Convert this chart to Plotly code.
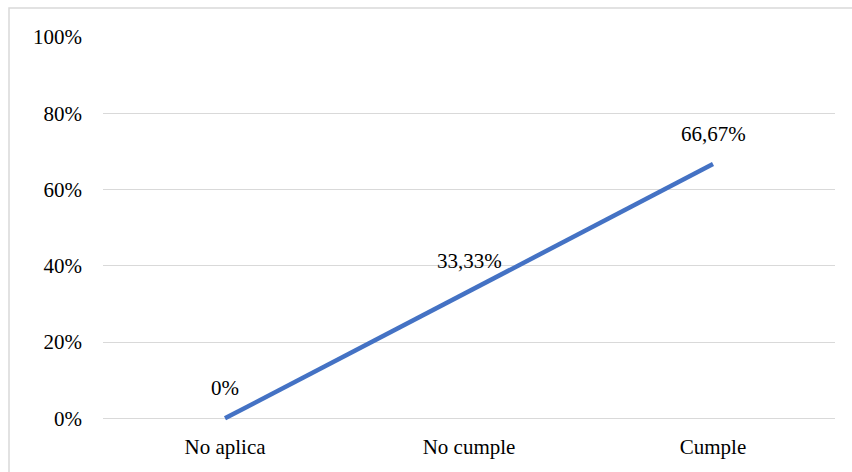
import plotly.graph_objects as go

categories = ["No aplica", "No cumple", "Cumple"]
values = [0, 33.33, 66.67]
labels = ["0%", "33,33%", "66,67%"]
y_ticks = [0, 20, 40, 60, 80, 100]
y_tick_text = ["0%", "20%", "40%", "60%", "80%", "100%"]

FONT = "Times New Roman"
W, H = 852, 472
ML, MR, MT = 103, 17, 37
Y_MIN, Y_MAX = -2, 100
PX_PER_UNIT = (418 - 37) / 100
MB = H - 418 - (0 - Y_MIN) * PX_PER_UNIT

fig = go.Figure()
fig.add_trace(go.Scatter(
    x=categories,
    y=values,
    mode="lines",
    line=dict(color="#4472C4", width=4.5),
    hoverinfo="skip",
))

# data labels above each point
for c, v, t in zip(categories, values, labels):
    fig.add_annotation(
        x=c, y=v, text=t, showarrow=False, yshift=30,
        font=dict(family=FONT, size=21, color="#000000"),
    )

pw = W - ML - MR
ph = H - MT - MB
# outer chart border (top/left visible, right/bottom run past the page)
fig.add_shape(
    type="rect", xref="paper", yref="paper",
    x0=(9 - ML) / pw, x1=(W + 5 - ML) / pw,
    y0=-(H + 5 - MT - ph) / ph, y1=1 + (MT - 8) / ph,
    line=dict(color="#d9d9d9", width=1.5), fillcolor="rgba(0,0,0,0)",
    layer="below",
)

fig.update_layout(
    width=W, height=H,
    margin=dict(l=ML, r=MR, t=MT, b=MB),
    paper_bgcolor="white", plot_bgcolor="white",
    showlegend=False,
    font=dict(family=FONT, size=21, color="#000000"),
)
fig.update_xaxes(
    type="category", range=[-0.5, 2.5],
    showgrid=False, zeroline=False, showline=False,
    ticks="", ticklabelstandoff=6,
    tickfont=dict(family=FONT, size=21, color="#000000"),
)
fig.update_yaxes(
    range=[Y_MIN, Y_MAX], tickvals=y_ticks, ticktext=y_tick_text,
    showgrid=True, gridcolor="#d9d9d9", gridwidth=1.2,
    zeroline=True, zerolinecolor="#d9d9d9", zerolinewidth=1.2,
    showline=False, ticks="", ticklabelstandoff=20,
    tickfont=dict(family=FONT, size=21, color="#000000"),
)

fig.write_html("out.html")
